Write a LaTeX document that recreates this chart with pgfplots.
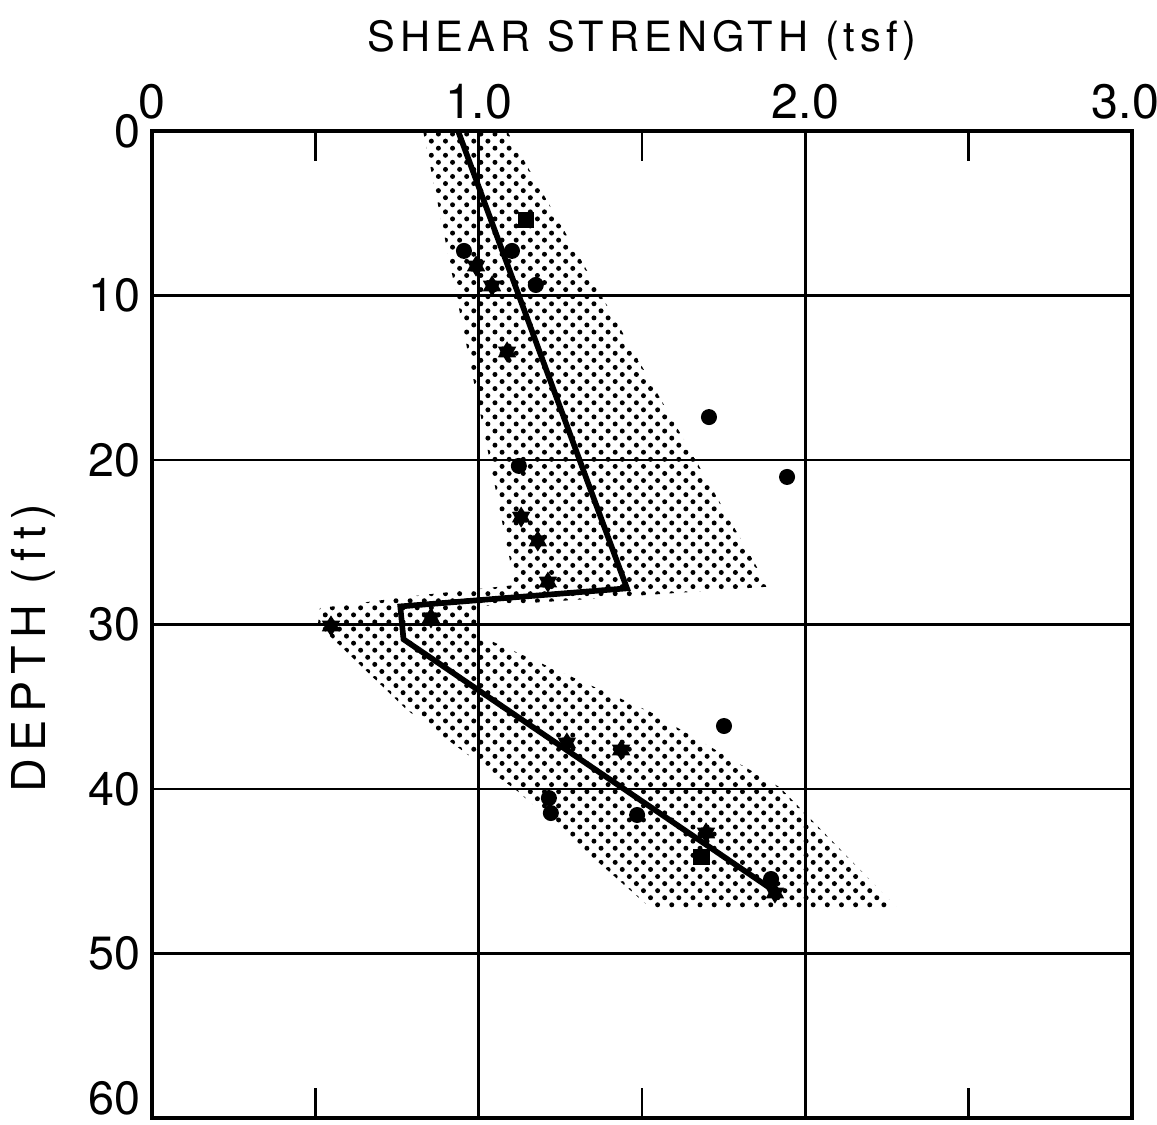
\documentclass[border=0pt]{standalone}
\usepackage{fontspec}
\setmainfont{TeX Gyre Heros}
\newfontfamily\titlefont[LetterSpace=12]{TeX Gyre Heros}
\newfontfamily\ylabfont[LetterSpace=16]{TeX Gyre Heros}
\usepackage{pgfplots}
\usepackage{pgfplotstable}
\pgfplotsset{compat=1.18}
\usetikzlibrary{patterns.meta}

\pgfdeclareplotmark{sstar}{%
  \pgfpathmoveto{\pgfpointpolar{90}{\pgfplotmarksize}}%
  \pgfpathlineto{\pgfpointpolar{120}{0.6*\pgfplotmarksize}}%
  \pgfpathlineto{\pgfpointpolar{150}{\pgfplotmarksize}}%
  \pgfpathlineto{\pgfpointpolar{180}{0.6*\pgfplotmarksize}}%
  \pgfpathlineto{\pgfpointpolar{210}{\pgfplotmarksize}}%
  \pgfpathlineto{\pgfpointpolar{240}{0.6*\pgfplotmarksize}}%
  \pgfpathlineto{\pgfpointpolar{270}{\pgfplotmarksize}}%
  \pgfpathlineto{\pgfpointpolar{300}{0.6*\pgfplotmarksize}}%
  \pgfpathlineto{\pgfpointpolar{330}{\pgfplotmarksize}}%
  \pgfpathlineto{\pgfpointpolar{0}{0.6*\pgfplotmarksize}}%
  \pgfpathlineto{\pgfpointpolar{30}{\pgfplotmarksize}}%
  \pgfpathlineto{\pgfpointpolar{60}{0.6*\pgfplotmarksize}}%
  \pgfpathclose
  \pgfusepathqfillstroke}

\pgfplotstableread{
x y
0.955 7.29
1.102 7.29
1.175 9.36
1.123 20.36
1.705 17.39
1.944 21.03
1.751 36.17
1.215 40.55
1.221 41.46
1.485 41.58
1.895 45.47
}\circles

\pgfplotstableread{
x y
1.145 5.41
1.683 44.14
}\squares

\pgfplotstableread{
x y
0.992 8.21
1.041 9.42
1.087 13.43
1.130 23.47
1.181 24.92
1.212 27.42
0.548 30.09
0.854 29.60
1.270 37.20
1.436 37.63
1.696 42.67
1.907 46.32
}\stars

\pgfplotstableread{
x y
0.830 0
1.087 0
1.886 27.7
1.004 28.9
1.004 30.7
1.524 35.3
1.922 39.9
2.280 47.2
1.524 47.2
1.117 40.1
0.781 35.2
0.508 30.0
0.514 29.0
0.830 28.2
1.111 27.6
0.830 0
}\band

\pgfplotstableread{
x y
0.937 0
1.454 27.8
0.760 28.9
0.770 30.9
1.905 46.2
}\meanline

\begin{document}
\begin{tikzpicture}
\begin{axis}[
  name=ax,
  scale only axis,
  width=294pt, height=296.1pt,
  xmin=0, xmax=3, ymin=0, ymax=60,
  y dir=reverse,
  axis on top,
  axis line style={line width=1.2pt},
  xtick={0,1,2,3},
  xticklabels={0,1.0,2.0,\hspace{-4pt}3.0},
  xticklabel pos=upper,
  xtick pos=both,
  ytick={0,10,20,30,40,50,60},
  yticklabels={0,10,20,30,40,50,\raisebox{6pt}[\height][\depth]{60}},
  major tick length=0pt,
  grid=major,
  major grid style={black, line width=0.8pt},
  extra x ticks={0.5,1.5,2.5},
  extra x tick labels={},
  extra x tick style={grid=none, major tick length=9pt, tick align=inside,
      tick style={black, line width=0.8pt}},
  xticklabel style={font=\fontsize{14.5}{14.5}\selectfont},
  yticklabel style={font=\fontsize{14}{14}\selectfont},
  title={\titlefont\fontsize{12.5}{12.5}\selectfont SHEAR STRENGTH (tsf)},
  title style={at={(axis description cs:0.5,1)}, anchor=base, yshift=18pt},
  ylabel={\ylabfont\fontsize{14}{14}\selectfont DEPTH (ft)},
  every axis y label/.style={at={(axis description cs:-0.1214,0.476)}, rotate=90, anchor=center},
  clip=false,
]
\addplot[draw=none, pattern={Dots[distance=3pt, radius=0.75pt, angle=45]}, pattern color=black] table {\band};
\addplot[black, line width=1.7pt] table {\meanline};
\addplot[only marks, mark=*, mark size=2.2pt, black] table {\circles};
\addplot[only marks, mark=square*, mark size=2.3pt, black] table {\squares};
\addplot[only marks, mark=sstar, mark size=2.8pt, black] table {\stars};
\coordinate (LL) at (axis description cs:0,0);
\coordinate (UR) at (axis description cs:1,1);
\end{axis}
\pgfresetboundingbox
\path[use as bounding box] ([xshift=-45.6pt,yshift=-1.8pt]LL) rectangle ([xshift=7.5pt,yshift=39.3pt]UR);
\end{tikzpicture}
\end{document}
